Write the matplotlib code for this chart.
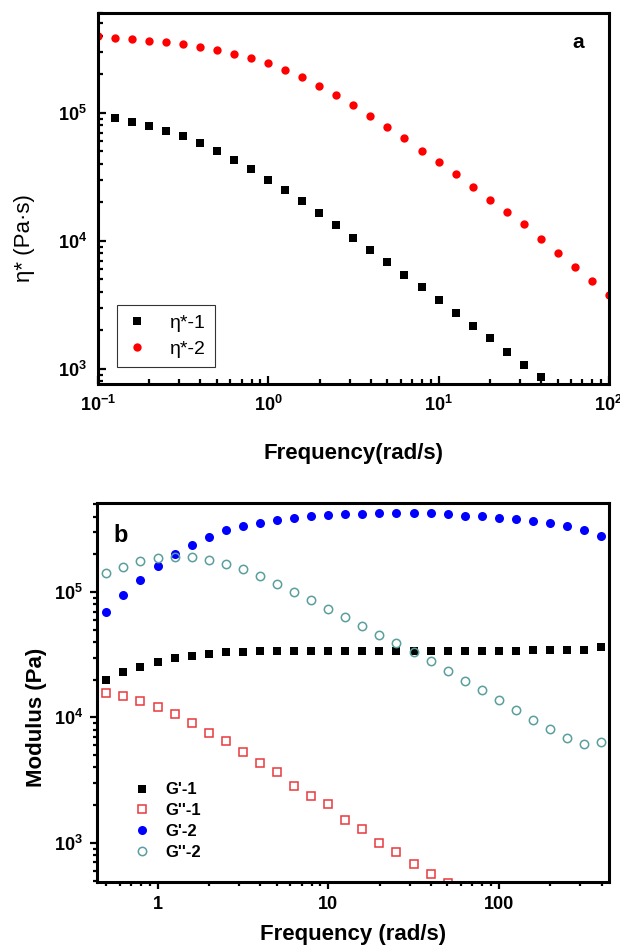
import numpy as np
import matplotlib
matplotlib.use("Agg")
from matplotlib import pyplot as plt
from matplotlib.ticker import LogLocator, FixedLocator, FixedFormatter, NullFormatter

plt.rcParams['font.family'] = ['Liberation Sans', 'DejaVu Sans']
plt.rcParams['font.weight'] = 'bold'
plt.rcParams['mathtext.fontset'] = 'custom'
plt.rcParams['mathtext.rm'] = 'Liberation Sans:bold'
plt.rcParams['mathtext.it'] = 'Liberation Sans:bold'
plt.rcParams['mathtext.bf'] = 'Liberation Sans:bold'
plt.rcParams['mathtext.default'] = 'rm'

# panel a: complex viscosity, 10 points per decade starting at 0.1 rad/s
freq_a = 10 ** (-1 + np.arange(31) / 10)
eta_2 = [4.02e5, 3.87e5, 3.77e5, 3.65e5, 3.57e5, 3.44e5, 3.28e5, 3.11e5, 2.90e5, 2.67e5,
         2.44e5, 2.17e5, 1.90e5, 1.62e5, 1.37e5, 1.15e5, 9.48e4, 7.73e4, 6.30e4, 5.07e4,
         4.12e4, 3.30e4, 2.63e4, 2.10e4, 1.69e4, 1.34e4, 1.04e4, 8.06e3, 6.22e3, 4.81e3,
         3.74e3]
freq_a1 = freq_a[1:27]
eta_1 = [9.09e4, 8.51e4, 7.91e4, 7.19e4, 6.58e4, 5.83e4, 5.07e4, 4.29e4, 3.61e4, 3.01e4,
         2.49e4, 2.04e4, 1.65e4, 1.33e4, 1.055e4, 8.51e3, 6.77e3, 5.42e3, 4.33e3, 3.46e3,
         2.72e3, 2.17e3, 1.73e3, 1.36e3, 1.07e3, 8.61e2]

# panel b: moduli, 10 points per decade from 0.5 to 400 rad/s
freq_b = 10 ** ((np.arange(30) - 3) / 10)
g1_store = [1.99e4, 2.32e4, 2.54e4, 2.78e4, 2.97e4, 3.11e4, 3.22e4, 3.31e4, 3.33e4, 3.37e4,
            3.40e4, 3.41e4, 3.42e4, 3.42e4, 3.42e4, 3.42e4, 3.42e4, 3.42e4, 3.42e4, 3.42e4,
            3.42e4, 3.42e4, 3.42e4, 3.42e4, 3.42e4, 3.43e4, 3.47e4, 3.47e4, 3.47e4, 3.62e4]
g1_loss = [1.56e4, 1.47e4, 1.36e4, 1.21e4, 1.06e4, 9.04e3, 7.52e3, 6.46e3, 5.28e3, 4.36e3,
           3.66e3, 2.83e3, 2.36e3, 2.03e3, 1.52e3, 1.29e3, 1.00e3, 8.43e2, 6.76e2, 5.66e2,
           4.77e2]
g2_store = [6.97e4, 9.52e4, 1.26e5, 1.62e5, 2.01e5, 2.38e5, 2.74e5, 3.10e5, 3.36e5, 3.57e5,
            3.77e5, 3.89e5, 4.01e5, 4.11e5, 4.16e5, 4.21e5, 4.24e5, 4.26e5, 4.26e5, 4.24e5,
            4.16e5, 4.08e5, 4.01e5, 3.91e5, 3.80e5, 3.66e5, 3.53e5, 3.36e5, 3.12e5, 2.81e5]
g2_loss = [1.41e5, 1.59e5, 1.76e5, 1.86e5, 1.90e5, 1.89e5, 1.80e5, 1.67e5, 1.52e5, 1.34e5,
           1.16e5, 1.01e5, 8.64e4, 7.36e4, 6.28e4, 5.36e4, 4.57e4, 3.93e4, 3.33e4, 2.81e4,
           2.35e4, 1.97e4, 1.65e4, 1.37e4, 1.15e4, 9.60e3, 8.05e3, 6.87e3, 6.11e3, 6.38e3]

fig = plt.figure(figsize=(6.2, 9.48), dpi=100)
ax1 = fig.add_axes([0.158, 0.595, 0.824, 0.391])
ax2 = fig.add_axes([0.156, 0.070, 0.826, 0.399])

# ---- panel a ----
ax1.plot(freq_a1, eta_1, 's', color='black', ms=5.5, mew=0, label='η*-1')
ax1.plot(freq_a, eta_2, 'o', color='#ff0000', ms=6, mew=0, label='η*-2')
ax1.set_xscale('log')
ax1.set_yscale('log')
ax1.set_xlim(0.1, 100)
ax1.set_ylim(760, 6e5)
ax1.tick_params(which='both', direction='in', top=False, right=False, width=1.6, labelsize=13)
ax1.tick_params(which='major', length=6, pad=8)
ax1.tick_params(which='minor', length=3.5)
ax1.set_xlabel('Frequency(rad/s)', fontsize=16, fontweight='bold')
ax1.set_ylabel('η* (Pa·s)', fontsize=16, fontweight='normal')
ax1.xaxis.set_label_coords(0.5, -0.159)
ax1.yaxis.set_label_coords(-0.123, 0.394)
ax1.text(0.94, 0.92, 'a', transform=ax1.transAxes, fontsize=15, fontweight='bold',
         ha='center', va='center')
leg1 = ax1.legend(loc='lower left', bbox_to_anchor=(0.037, 0.046),
                  prop={'size': 14, 'weight': 'normal'},
                  fancybox=False, edgecolor='black', handlelength=1.2, handletextpad=1.1,
                  labelspacing=0.45, borderpad=0.45, borderaxespad=0)
leg1.get_frame().set_linewidth(0.8)

# ---- panel b ----
ax2.plot(freq_b, g1_store, 's', color='black', ms=5.5, mew=0, label="G'-1")
ax2.plot(freq_b[:len(g1_loss)], g1_loss, 's', mfc='none', mec='#e8383d', ms=5.5, mew=1.1,
         label="G''-1")
ax2.plot(freq_b, g2_store, 'o', color='#0000ff', ms=6.5, mew=0, label="G'-2")
ax2.plot(freq_b, g2_loss, 'o', mfc='none', mec='#5a9e9e', ms=6, mew=1.1, label="G''-2")
ax2.set_xscale('log')
ax2.set_yscale('log')
ax2.set_xlim(0.44, 441)
ax2.set_ylim(490, 5.1e5)
ax2.tick_params(which='both', direction='out', top=False, right=False, width=1.6, labelsize=13)
ax2.tick_params(which='major', length=5, pad=5)
ax2.tick_params(which='minor', length=3)
ax2.xaxis.set_major_locator(FixedLocator([1, 10, 100]))
ax2.xaxis.set_major_formatter(FixedFormatter(['1', '10', '100']))
ax2.xaxis.set_minor_locator(LogLocator(base=10, subs=np.arange(2, 10)))
ax2.xaxis.set_minor_formatter(NullFormatter())
ax2.set_xlabel('Frequency (rad/s)', fontsize=16, fontweight='bold')
ax2.set_ylabel('Modulus (Pa)', fontsize=16, fontweight='bold')
ax2.xaxis.set_label_coords(0.5, -0.111)
ax2.yaxis.set_label_coords(-0.098, 0.435)
ax2.text(0.047, 0.916, 'b', transform=ax2.transAxes, fontsize=17, fontweight='bold',
         ha='center', va='center')
ax2.legend(loc='lower left', bbox_to_anchor=(0.06, 0.04), fontsize=12, frameon=False,
           handlelength=1.0, handletextpad=0.9, labelspacing=0.35, borderaxespad=0)

for ax in (ax1, ax2):
    for s in ax.spines.values():
        s.set_linewidth(2.2)

fig.savefig('out.png', dpi=100)
